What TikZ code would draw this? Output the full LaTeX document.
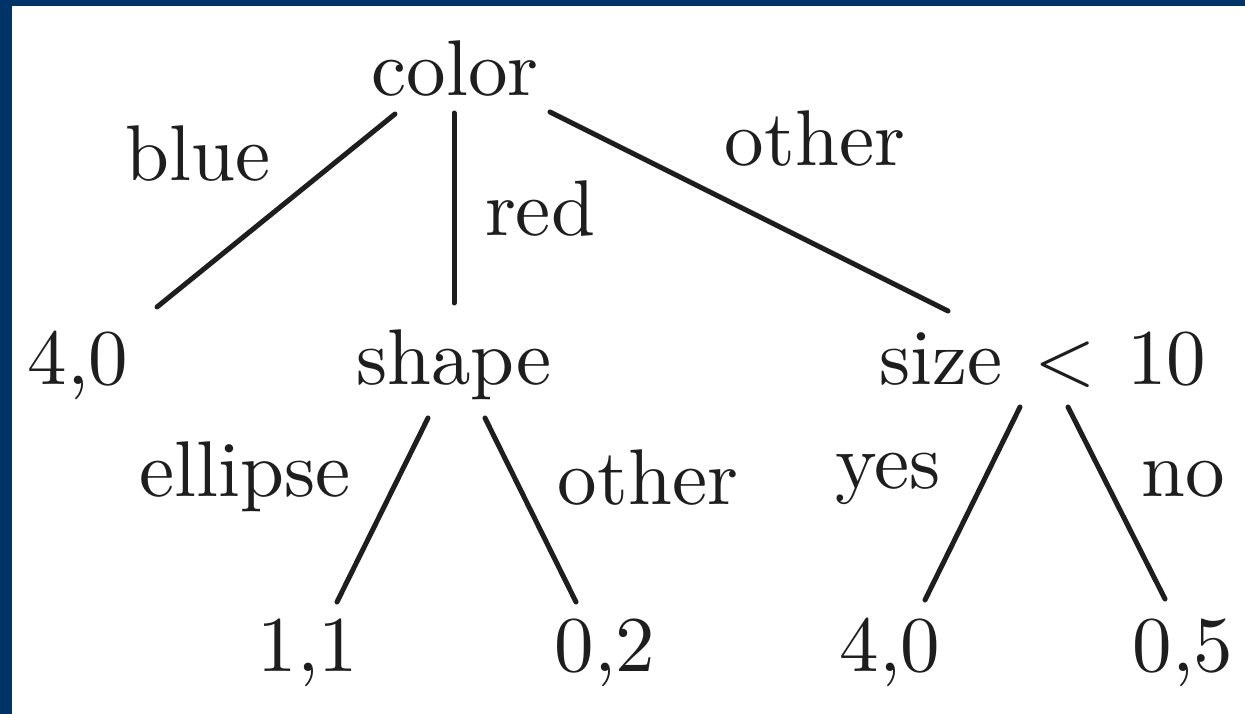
\documentclass[tikz,border=0pt]{standalone}
\usepackage{fontspec}
\setmainfont{lmroman10-regular.otf}
\DeclareFontShape{OML}{cmm}{m}{it}{<-> cmmi10}{}
\definecolor{frameblue}{RGB}{0,51,102}
\definecolor{ink}{RGB}{30,30,30}
\begin{document}
\begin{tikzpicture}[x=1pt,y=-1pt,
  lbl/.style={anchor=base,inner sep=0pt,text=ink,font=\fontsize{79}{90}\selectfont},
  edge/.style={draw=ink,line width=5pt,line cap=round}]
\useasboundingbox (0,0) rectangle (1245,714);
\fill[frameblue] (0,0) rectangle (1245,714);
\fill[white] (12,6) rectangle (1245,714);
% nodes
\node[lbl] (color) at (455,96) {color};
\node[lbl] (l40) at (78,384) {4,0};
\node[lbl] (shape) at (454,384) {shape};
\node[lbl] (size) at (1043,384) {size\hspace{0.4em}$<$\hspace{0.4em}10};
\node[lbl] (l11) at (308,671) {1,1};
\node[lbl] (l02) at (605,671) {0,2};
\node[lbl] (l40b) at (890,671) {4,0};
\node[lbl] (l05) at (1183,671) {0,5};
% edge labels
\node[lbl] (tblue) at (198,181) {blue};
\node[lbl] (tred) at (540,236) {red};
\node[lbl] (tother) at (815,166) {other};
\node[lbl] (tellipse) at (245,496) {ellipse};
\node[lbl] (tother2) at (648,504) {other};
\node[lbl] (tyes) at (888,488) {yes};
\node[lbl] (tno) at (1183,496) {no};
% connector ends
\coordinate (e1a) at (395,114); \coordinate (e1b) at (157,307);
\coordinate (e2a) at (454,113); \coordinate (e2b) at (454,303);
\coordinate (e3a) at (550,112); \coordinate (e3b) at (948,311);
\coordinate (e4a) at (428,418); \coordinate (e4b) at (337,602);
\coordinate (e5a) at (485,418); \coordinate (e5b) at (576,602);
\coordinate (e6a) at (1020,407); \coordinate (e6b) at (925,600);
\coordinate (e7a) at (1068,407); \coordinate (e7b) at (1165,599);
\draw[edge] (e1a) -- (e1b);
\draw[edge] (e2a) -- (e2b);
\draw[edge] (e3a) -- (e3b);
\draw[edge] (e4a) -- (e4b);
\draw[edge] (e5a) -- (e5b);
\draw[edge] (e6a) -- (e6b);
\draw[edge] (e7a) -- (e7b);
\end{tikzpicture}
\end{document}
